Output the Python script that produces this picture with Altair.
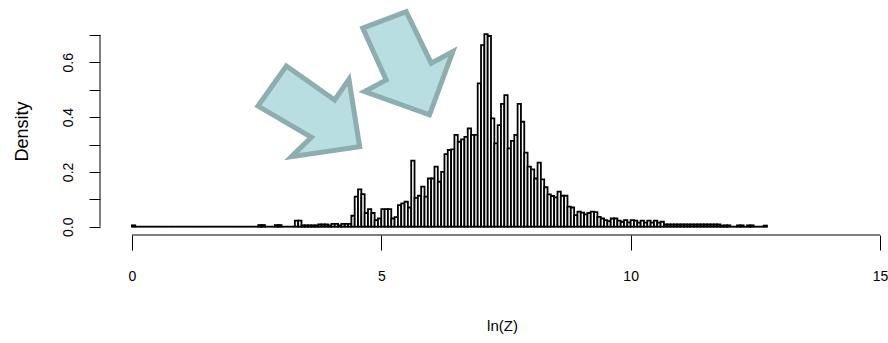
import altair as alt
import pandas as pd

# ---- data ----
bin_width = 1 / 15  # width of each histogram cell in ln(Z) units
density = (
    [0.005] + [0.0] * 37 +                      # i = 0 .. 37
    [0.006, 0.006, 0.0, 0.0, 0.0, 0.006, 0.006,  # i = 38 .. 44
     0.0, 0.0, 0.0, 0.0, 0.022, 0.022,           # i = 45 .. 50
     0.005, 0.005, 0.005, 0.005, 0.005,          # i = 51 .. 55
     0.008, 0.008, 0.008, 0.005, 0.01, 0.01,     # i = 56 .. 61
     0.005, 0.01, 0.01, 0.01,                    # i = 62 .. 65
     0.04, 0.11, 0.136, 0.119, 0.05, 0.064, 0.05, 0.024, 0.03, 0.064,   # 66 .. 75
     0.064, 0.064, 0.03, 0.035, 0.079, 0.085, 0.091, 0.07, 0.241, 0.105,  # 76 .. 85
     0.113, 0.146, 0.11, 0.176, 0.176, 0.219, 0.164, 0.20, 0.265, 0.28,  # 86 .. 95
     0.282, 0.335, 0.31, 0.319, 0.328, 0.359, 0.335, 0.335, 0.523, 0.663,  # 96 .. 105
     0.703, 0.696, 0.395, 0.304, 0.371, 0.448, 0.48, 0.286, 0.313, 0.335,  # 106 .. 115
     0.448, 0.383, 0.27, 0.219, 0.209, 0.176, 0.234, 0.173, 0.144, 0.118,  # 116 .. 125
     0.112, 0.107, 0.128, 0.113, 0.113, 0.073, 0.07, 0.042, 0.055, 0.051,  # 126 .. 135
     0.045, 0.05, 0.055, 0.053, 0.036, 0.03, 0.024, 0.02, 0.03, 0.03,     # 136 .. 145
     0.022, 0.018, 0.024, 0.016, 0.024, 0.022, 0.015, 0.022, 0.015, 0.022,  # 146 .. 155
     0.015, 0.022, 0.015, 0.018] +               # 156 .. 159
    [0.008] * 17 +                               # 160 .. 176
    [0.004, 0.005, 0.005, 0.0, 0.0, 0.005, 0.005, 0.0, 0.005, 0.005,
     0.0, 0.0, 0.0, 0.004]                       # 177 .. 190
)

x_ticks = [0, 5, 10, 15]
y_ticks = [0.0, 0.1, 0.2, 0.3, 0.4, 0.5, 0.6, 0.7]

# annotation arrows (centre in data units, outline as a normalised SVG path)
arrow_x = [3.548, 5.526]
arrow_y = [0.421, 0.596]
arrow_radius = [51, 52]
arrow_paths = [
    "M-0.441,-0.888 L0.506,-0.222 L0.786,-0.627 L0.996,0.694 L-0.343,0.89 L0.049,0.51 L-0.998,-0.104 Z",
    "M-0.86,-0.677 L-0.025,-0.996 L0.456,-0.004 L0.871,-0.227 L0.423,0.99 L-0.827,0.542 L-0.41,0.317 Z",
]

# ---- tables ----
hist = pd.DataFrame({
    "left": [i * bin_width for i in range(len(density))],
    "right": [(i + 1) * bin_width for i in range(len(density))],
    "density": density,
})
arrows = pd.DataFrame({
    "left": arrow_x,
    "density": arrow_y,
    "path": arrow_paths,
    "size": [(2 * r) ** 2 for r in arrow_radius],
})

W, H = 788, 209
xscale = alt.Scale(domain=[-0.64, 15.16], nice=False, zero=False)
yscale = alt.Scale(domain=[-0.0303, 0.7325], nice=False, zero=False)

xaxis = alt.Axis(
    values=x_ticks, format="d", domain=False, grid=False,
    tickSize=15, tickColor="black", tickWidth=1,
    labelFontSize=14, labelColor="black", labelPadding=19,
    title="ln(Z)", titleFontSize=15, titleFontWeight="normal", titleColor="black",
    titleX=402, titleY=90, titleBaseline="middle", titleAlign="center",
)
yaxis = alt.Axis(
    values=y_ticks, domain=False, grid=False,
    labelExpr="round(datum.value * 10) % 2 == 0 ? format(datum.value, '.1f') : ''",
    tickSize=11, tickColor="black", tickWidth=1,
    labelAngle=270, labelAlign="center", labelBaseline="alphabetic",
    labelFontSize=14, labelColor="black", labelPadding=17,
    title="Density", titleFontSize=18, titleFontWeight="normal", titleColor="black",
    titleAngle=270, titleX=-78, titleY=105, titleBaseline="middle", titleAlign="center",
)


def X(field):
    return alt.X(field, scale=xscale, axis=xaxis)


def Y(field):
    return alt.Y(field, scale=yscale, axis=yaxis)


bars = alt.Chart(hist).mark_rect(fill="white", stroke="black", strokeWidth=1.8).encode(
    x=X("left:Q"),
    x2="right:Q",
    y=Y("density:Q"),
    y2=alt.datum(0),
)

base_line = alt.Chart(pd.DataFrame({"left": [0.0], "right": [len(density) * bin_width], "density": [0.0]})).mark_rule(
    color="black", strokeWidth=1.2
).encode(x=X("left:Q"), x2="right:Q", y=Y("density:Q"))

y_axis_line = alt.Chart(pd.DataFrame({"density": [y_ticks[0]], "d1": [y_ticks[-1]]})).mark_rule(
    color="black", strokeWidth=1
).encode(x=alt.value(0), y=Y("density:Q"), y2="d1:Q")

x_axis_line = alt.Chart(pd.DataFrame({"left": [x_ticks[0]], "x1": [x_ticks[-1]]})).mark_rule(
    color="black", strokeWidth=1
).encode(x=X("left:Q"), x2="x1:Q", y=alt.value(H))

arrow_layer = alt.Chart(arrows).mark_point(
    filled=True, fill="#B8DEE2", stroke="#8DADAF", strokeWidth=5,
    opacity=1, fillOpacity=1, strokeOpacity=1, strokeJoin="miter",
).encode(
    x=X("left:Q"),
    y=Y("density:Q"),
    shape=alt.Shape("path:N", scale=None, legend=None),
    size=alt.Size("size:Q", scale=None, legend=None),
)

chart = alt.layer(bars, base_line, y_axis_line, x_axis_line, arrow_layer).properties(
    width=W, height=H,
    autosize=alt.AutoSizeParams(type="none"),
    padding={"left": 100, "top": 26, "right": 0, "bottom": 108},
).configure(font="Liberation Sans", background="white").configure_view(stroke=None)

chart.save("out.html", embed_options={"renderer": "svg", "actions": False})
